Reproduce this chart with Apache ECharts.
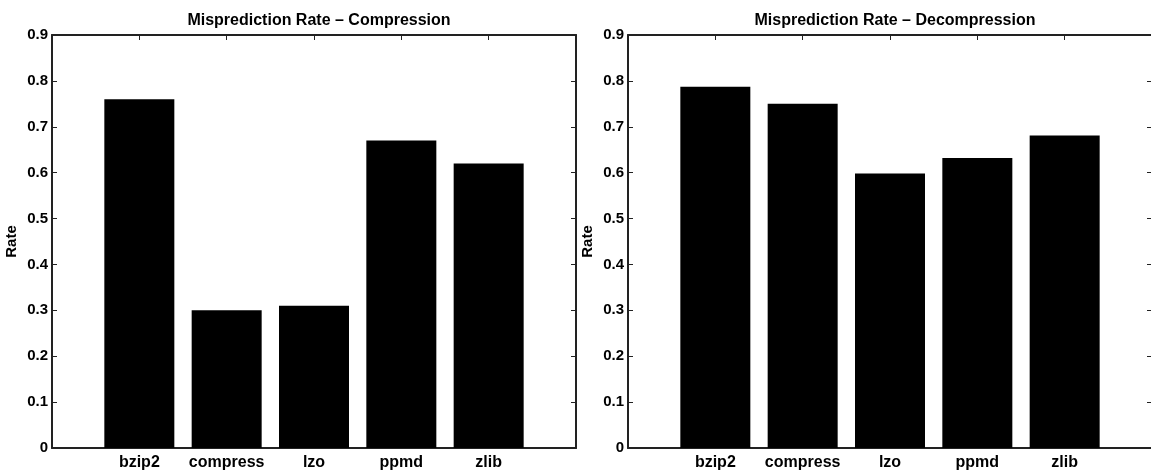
<!DOCTYPE html>
<html>
<head>
<meta charset="utf-8">
<script src="https://cdn.jsdelivr.net/npm/echarts@6/dist/echarts.min.js"></script>
<style>
  html, body { margin: 0; padding: 0; background: #fff; overflow: hidden; }
  #chart { width: 1151px; height: 474px; }
</style>
</head>
<body>
<div id="chart"></div>
<script>
const categories = ['bzip2', 'compress', 'lzo', 'ppmd', 'zlib'];
const compressionRate = [0.76, 0.30, 0.31, 0.67, 0.62];
const decompressionRate = [0.787, 0.75, 0.598, 0.632, 0.681];
const yTicks = [0, 0.1, 0.2, 0.3, 0.4, 0.5, 0.6, 0.7, 0.8, 0.9];
const titles = ['Misprediction Rate \u2013 Compression', 'Misprediction Rate \u2013 Decompression'];

const font = 'Liberation Sans, Arial, Helvetica, sans-serif';
const chart = echarts.init(document.getElementById('chart'));

// MATLAB style: x range 0..6, bars at 1..5
const grids = [
  { left: 52, top: 35, width: 524, height: 413, outerBoundsMode: 'none' },
  { left: 628, top: 35, width: 524, height: 413, outerBoundsMode: 'none' }
];

const lineStyle = { color: '#222', width: 2 };

function xAxes(gi) {
  const base = {
    type: 'value', gridIndex: gi, min: 0, max: 6, interval: 1,
    splitLine: { show: false },
    axisLine: { show: true, onZero: false, lineStyle: lineStyle },
    axisTick: { show: true, inside: true, length: 5, lineStyle: { color: '#222' } }
  };
  return [
    Object.assign({}, base, {
      position: 'bottom',
      axisLabel: {
        color: '#000', fontFamily: font, fontWeight: 'bold', fontSize: 16, margin: 7,
        formatter: v => categories[v - 1] || ''
      }
    }),
    Object.assign({}, base, { position: 'top', axisLabel: { show: false } })
  ];
}

function yAxes(gi) {
  const base = {
    type: 'value', gridIndex: gi, min: 0, max: 0.9, interval: 0.1,
    splitLine: { show: false },
    axisLine: { show: true, onZero: false, lineStyle: lineStyle },
    axisTick: { show: true, inside: true, length: 5, lineStyle: { color: '#222' } }
  };
  return [
    Object.assign({}, base, {
      position: 'left',
      name: 'Rate',
      nameLocation: 'middle', nameGap: 33, nameRotate: 90,
      nameTextStyle: { color: '#000', fontFamily: font, fontWeight: 'bold', fontSize: 15 },
      axisLabel: {
        color: '#000', fontFamily: font, fontWeight: 'bold', fontSize: 15, margin: 4,
        formatter: v => {
          const t = yTicks.find(k => Math.abs(k - v) < 1e-6);
          return t === 0 ? '0' : t.toFixed(1);
        }
      }
    }),
    Object.assign({}, base, { position: 'right', axisLabel: { show: false } })
  ];
}

function barSeries(values, gi) {
  return {
    type: 'bar',
    xAxisIndex: gi * 2,
    yAxisIndex: gi * 2,
    barWidth: 70,
    itemStyle: { color: '#000' },
    data: values.map((v, i) => [i + 1, v]),
    silent: true
  };
}

const option = {
  animation: false,
  backgroundColor: '#fff',
  title: titles.map((t, i) => ({
    text: t,
    left: 52 + i * 576 + 262,
    top: 8,
    textAlign: 'center',
    textStyle: { color: '#000', fontFamily: font, fontWeight: 'bold', fontSize: 16 }
  })),
  grid: grids,
  xAxis: [...xAxes(0), ...xAxes(1)],
  yAxis: [...yAxes(0), ...yAxes(1)],
  series: [barSeries(compressionRate, 0), barSeries(decompressionRate, 1)]
};

chart.setOption(option);
</script>
</body>
</html>
